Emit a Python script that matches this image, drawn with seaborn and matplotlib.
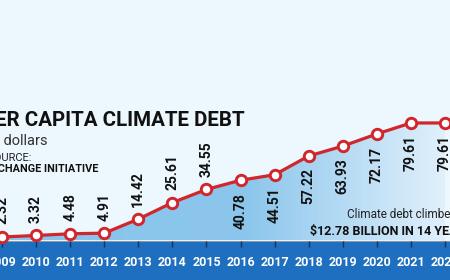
import numpy as np
import pandas as pd
import matplotlib
matplotlib.use("Agg")
import matplotlib.pyplot as plt
from matplotlib.colors import LinearSegmentedColormap
import seaborn as sns

years = [2009, 2010, 2011, 2012, 2013, 2014, 2015, 2016, 2017, 2018, 2019, 2020, 2021, 2022]
values = [2.32, 3.32, 4.48, 4.91, 14.42, 25.61, 34.55, 40.78, 44.51, 57.22, 63.93, 72.17, 79.61, 79.61]
value_labels = ["2.32", "3.32", "4.48", "4.91", "14.42", "25.61", "34.55",
                "40.78", "44.51", "57.22", "63.93", "72.17", "79.61", "79.61"]
label_above = [True] * 7 + [False] * 7
year_labels = [str(y) for y in years]

title = "PER CAPITA CLIMATE DEBT"
subtitle = "In dollars"
source1 = "SOURCE:"
source2 = "CLIMATE CHANGE INITIATIVE"
note1 = "Climate debt climbed to"
note2 = "$12.78 BILLION IN 14 YEARS"

sns.set_theme(style="white")
plt.rcParams["font.family"] = ["DejaVu Sans"]
COND = ["Roboto", "DejaVu Sans"]

BG = "#edf7fe"
RED = "#d0262c"
BAND = "#1e6fc0"

W, H = 450, 280
fig = plt.figure(figsize=(W / 100, H / 100), dpi=100, facecolor=BG)
ax = fig.add_axes([0, 0, 1, 1])
ax.set_facecolor(BG)

x0, x1 = 2008.941, 2022.147
y0, y1 = -26.85, 162.98
ax.set_xlim(x0, x1)
ax.set_ylim(y0, y1)
ax.axis("off")

df = pd.DataFrame({"year": years, "value": values})

# gradient area under the line
poly = ax.fill_between(years, values, 0, color="none", lw=0)
cmap = LinearSegmentedColormap.from_list(
    "g", [(0, "#88c4eb"), (0.55, "#8cc6ec"), (0.85, "#c6e3f7"), (1.0, "#e2f1fc")])
grad = np.linspace(0, 1, 256).reshape(1, -1)
im = ax.imshow(grad, extent=[x0, x1, 0, 100], aspect="auto", cmap=cmap,
               origin="lower", zorder=1)
im.set_clip_path(poly.get_paths()[0], transform=ax.transData)

# bottom band
ax.axhspan(y0, -1.1, color=BAND, zorder=2)
ax.axhline(-0.5, color="#8a96a4", lw=0.8, zorder=2)
ax.vlines(years, -4.6, -0.6, color="#1b3152", lw=1.0, zorder=3)
for yr, lab in zip(years, year_labels):
    ax.text(yr, -15.3, lab, color="white", ha="center", va="center",
            fontsize=9, fontweight="bold", family=COND, zorder=4)

# line with markers
sns.lineplot(data=df, x="year", y="value", ax=ax, color=RED, lw=2.3,
             marker="o", markersize=7.5, markerfacecolor="white",
             markeredgecolor=RED, markeredgewidth=2.1, zorder=5, clip_on=False)

# value labels
for yr, v, lab, above in zip(years, values, value_labels, label_above):
    ax.annotate(lab, (yr, v), xytext=(0, 9 if above else -9),
                textcoords="offset points", rotation=90,
                ha="center", va="bottom" if above else "top",
                fontsize=10, fontweight="bold", family=COND, color="#111111",
                zorder=6)

T = ax.transAxes
def px(x, y):
    return x / W, 1 - y / H

ax.text(*px(245, 120), title, transform=T, ha="right", va="center",
        fontsize=14.8, fontweight="bold", family=COND, color="#111111")
ax.text(*px(47, 141), subtitle, transform=T, ha="right", va="center",
        fontsize=10.5, family=COND, color="#333333")
ax.text(*px(32, 158), source1, transform=T, ha="right", va="center",
        fontsize=8, family=COND, color="#222222")
ax.text(*px(98, 168.5), source2, transform=T, ha="right", va="center",
        fontsize=7.8, fontweight="bold", family=COND, color="#111111")
ax.text(*px(347, 214), note1, transform=T, ha="left", va="center",
        fontsize=8.5, family=COND, color="#222222", zorder=7)
ax.text(*px(310, 231), note2, transform=T, ha="left", va="center",
        fontsize=9, fontweight="bold", family=COND, color="#111111", zorder=7)

fig.savefig("out.png", dpi=100, facecolor=BG)
